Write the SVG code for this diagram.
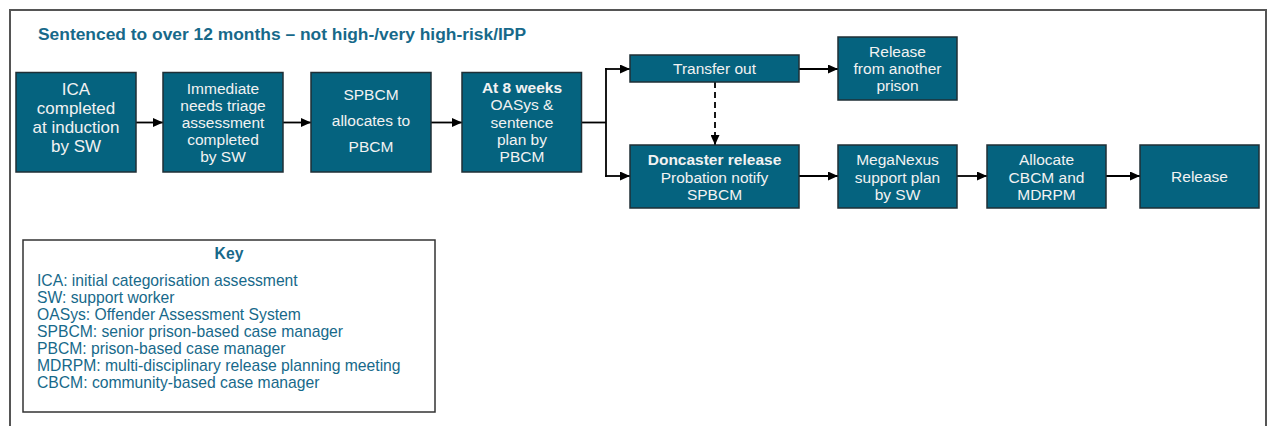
<svg xmlns="http://www.w3.org/2000/svg" width="1268" height="426" viewBox="0 0 1268 426">
  <style>
    .frame { fill: #ffffff; stroke: #555555; stroke-width: 2; }
    .node rect { fill: #05637f; stroke: #1f2f36; stroke-width: 1.5; }
    .node text { font-family: "Liberation Sans", Arial, sans-serif; font-size: 15.5px; fill: #f2f2f2; text-anchor: middle; }
    .node text.big { font-size: 17px; }
    .b { font-weight: bold; }
    .title { font-family: "Liberation Sans", Arial, sans-serif; font-size: 17.4px; font-weight: bold; fill: #17698a; }
    .link { fill: none; stroke: #000000; stroke-width: 1.8; }
    .dash { stroke-dasharray: 6 4; }
    .key rect { fill: #ffffff; stroke: #333333; stroke-width: 1.5; }
    .key text { font-family: "Liberation Sans", Arial, sans-serif; font-size: 15.7px; fill: #17698a; }
    .key text.head { font-weight: bold; text-anchor: middle; }
  </style>
  <defs>
    <marker id="arrow" viewBox="0 0 10 9" refX="10" refY="4.5" markerWidth="10" markerHeight="9" markerUnits="userSpaceOnUse" orient="auto">
      <path d="M0,0 L10,4.5 L0,9 z" fill="#000000"/>
    </marker>
  </defs>

  <!-- outer frame (bottom edge runs past the canvas) -->
  <rect class="frame" x="10" y="10" width="1256" height="440"/>

  <text class="title" x="38" y="40">Sentenced to over 12 months – not high-/very high-risk/IPP</text>

  <!-- connectors -->
  <g id="connectors">
    <line class="link" x1="136" y1="122.5" x2="163" y2="122.5" marker-end="url(#arrow)"/>
    <line class="link" x1="283" y1="122.5" x2="311" y2="122.5" marker-end="url(#arrow)"/>
    <line class="link" x1="431" y1="122.5" x2="462" y2="122.5" marker-end="url(#arrow)"/>
    <!-- branch: trunk, vertical spine and the two outgoing arrows -->
    <line class="link" x1="581" y1="122.5" x2="606" y2="122.5"/>
    <line class="link" x1="606" y1="68.1" x2="606" y2="176.9"/>
    <line class="link" x1="605.1" y1="69" x2="630" y2="69" marker-end="url(#arrow)"/>
    <line class="link" x1="605.1" y1="176" x2="630" y2="176" marker-end="url(#arrow)"/>
    <line class="link" x1="799" y1="69" x2="838" y2="69" marker-end="url(#arrow)"/>
    <line class="link dash" x1="715" y1="82" x2="715" y2="145" marker-end="url(#arrow)"/>
    <line class="link" x1="799" y1="176" x2="838" y2="176" marker-end="url(#arrow)"/>
    <line class="link" x1="957" y1="176" x2="987" y2="176" marker-end="url(#arrow)"/>
    <line class="link" x1="1106" y1="176" x2="1140" y2="176" marker-end="url(#arrow)"/>
  </g>

  <g id="ica" class="node">
    <rect x="16" y="72.5" width="120" height="99.5"/>
    <text class="big" x="76" y="95">ICA</text>
    <text class="big" x="76" y="114">completed</text>
    <text class="big" x="76" y="133">at induction</text>
    <text class="big" x="76" y="152">by SW</text>
  </g>

  <g id="triage" class="node">
    <rect x="163" y="72.5" width="120" height="99.5"/>
    <text x="223" y="93.5">Immediate</text>
    <text x="223" y="110.5">needs triage</text>
    <text x="223" y="127.5">assessment</text>
    <text x="223" y="144.5">completed</text>
    <text x="223" y="161.5">by SW</text>
  </g>

  <g id="spbcm" class="node">
    <rect x="311" y="72.5" width="120" height="99.5"/>
    <text x="371" y="100">SPBCM</text>
    <text x="371" y="126">allocates to</text>
    <text x="371" y="152">PBCM</text>
  </g>

  <g id="oasys" class="node">
    <rect x="462" y="72.5" width="119.5" height="99.5"/>
    <text class="b" x="522" y="93">At 8 weeks</text>
    <text x="522" y="110">OASys &amp;</text>
    <text x="522" y="127.5">sentence</text>
    <text x="522" y="144.5">plan by</text>
    <text x="522" y="161.5">PBCM</text>
  </g>

  <g id="transfer" class="node">
    <rect x="630" y="55" width="169" height="27"/>
    <text x="714.5" y="74">Transfer out</text>
  </g>

  <g id="release-other" class="node">
    <rect x="838" y="37" width="119" height="63"/>
    <text x="897.5" y="57">Release</text>
    <text x="897.5" y="74">from another</text>
    <text x="897.5" y="91">prison</text>
  </g>

  <g id="doncaster" class="node">
    <rect x="630" y="145" width="169" height="63"/>
    <text class="b" x="714.5" y="165">Doncaster release</text>
    <text x="714.5" y="182.5">Probation notify</text>
    <text x="714.5" y="199.5">SPBCM</text>
  </g>

  <g id="meganexus" class="node">
    <rect x="838" y="145" width="119" height="63"/>
    <text x="897.5" y="165">MegaNexus</text>
    <text x="897.5" y="182.5">support plan</text>
    <text x="897.5" y="199.5">by SW</text>
  </g>

  <g id="allocate" class="node">
    <rect x="987" y="145" width="119" height="63"/>
    <text x="1046.5" y="165">Allocate</text>
    <text x="1046.5" y="182.5">CBCM and</text>
    <text x="1046.5" y="199.5">MDRPM</text>
  </g>

  <g id="release" class="node">
    <rect x="1140" y="145" width="119" height="63"/>
    <text x="1199.5" y="182">Release</text>
  </g>

  <g id="key" class="key">
    <rect x="23" y="240" width="412" height="172"/>
    <text class="head" x="229" y="259">Key</text>
    <text x="37" y="286">ICA: initial categorisation assessment</text>
    <text x="37" y="303">SW: support worker</text>
    <text x="37" y="320">OASys: Offender Assessment System</text>
    <text x="37" y="337">SPBCM: senior prison-based case manager</text>
    <text x="37" y="354">PBCM: prison-based case manager</text>
    <text x="37" y="371">MDRPM: multi-disciplinary release planning meeting</text>
    <text x="37" y="388">CBCM: community-based case manager</text>
  </g>
</svg>
